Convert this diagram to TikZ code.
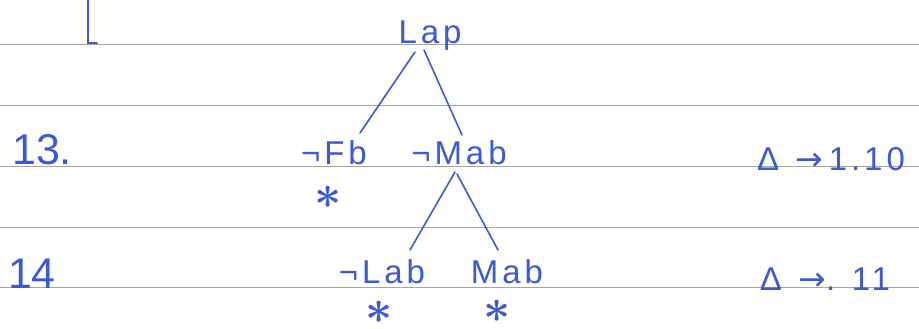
\documentclass[tikz,border=0pt]{standalone}
\usepackage{fontspec}
\setmainfont{Liberation Sans}
\newfontfamily\hand[LetterSpace=12]{Liberation Sans}
\newfontfamily\dv{DejaVu Sans}
\usetikzlibrary{calc}
\definecolor{ink}{RGB}{60,90,210}
\definecolor{rule}{RGB}{165,165,165}
\tikzset{
  handtext/.style={text=ink,inner sep=0pt,anchor=base,font=\hand\fontsize{33}{33}\selectfont},
  numtext/.style={text=ink,inner sep=0pt,anchor=base,font=\fontsize{43}{43}\selectfont},
  startext/.style={text=ink,inner sep=0pt,anchor=base,font=\Huge\boldmath,scale=1.9},
  edge/.style={draw=ink,line width=1.6pt,line cap=round},
  paperline/.style={draw=rule,line width=0.8pt}
}
\begin{document}
\begin{tikzpicture}[x=1pt,y=-1pt]
\useasboundingbox[fill=white] (0,0) rectangle (919,329);
% ruled paper
\foreach \yy in {44,105,166,227,287}
  \draw[paperline] (0,\yy) -- (919,\yy);
% left margin mark
\draw[edge] (88,0) -- (88,43) -- (97,43);
% tree
\node[handtext] (lap) at (430,44) {Lap};
\node[handtext] (fb) at (334,164) {¬Fb};
\node[handtext] (mab1) at (459,164) {¬Mab};
\node[handtext] (lab) at (382,283) {¬Lab};
\node[handtext] (mab2) at (507,283) {Mab};
\node[startext] (s1) at (328,208) {$\ast$};
\node[startext] (s2) at (379,323) {$\ast$};
\node[startext] (s3) at (497,322) {$\ast$};
\draw[edge] ($(lap.base)+(-15,8)$) -- ($(fb.base)+(26,-31)$);
\draw[edge] ($(lap.base)+(-6,6)$) -- ($(mab1.base)+(3,-29)$);
\draw[edge] ($(mab1.base)+(-4,8)$) -- ($(lab.base)+(28,-33)$);
\draw[edge] ($(mab1.base)+(-2,10)$) -- ($(mab2.base)+(-9,-33)$);
% line numbers
\node[numtext] (n13) at (42,164) {13.};
\node[numtext] (n14) at (32,288) {14};
% justifications
\node[handtext] (j13) at (831,170) {Δ\enspace{\dv →}\,1.10};
\node[handtext] (j14) at (825,290) {Δ\enspace{\dv →}.\enspace11};
\end{tikzpicture}
\end{document}
